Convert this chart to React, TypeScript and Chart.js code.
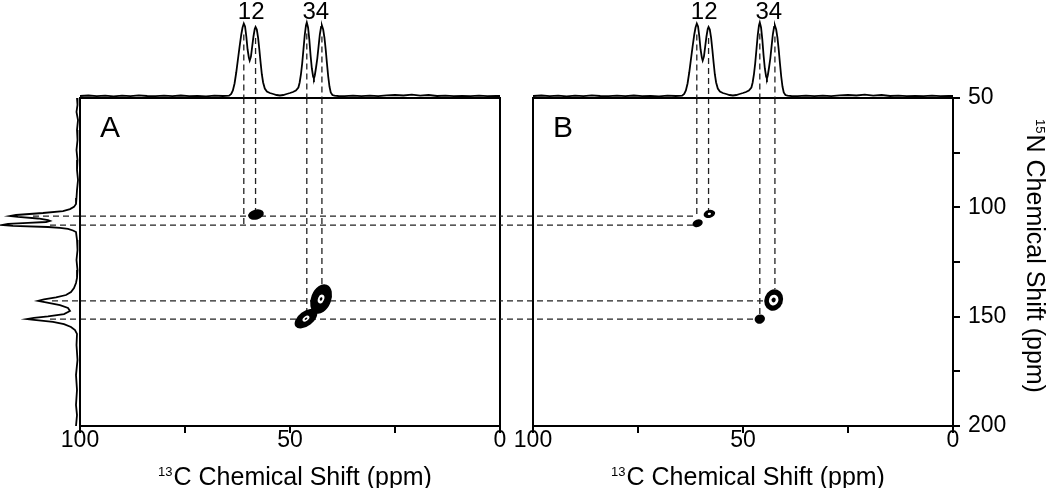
import React, { useEffect, useRef } from "react";
import { Chart, registerables } from "chart.js";

Chart.register(...registerables);

const FONT = "'Liberation Sans', Arial, Helvetica, sans-serif";

// ---------------- axes ----------------
const C_MIN = 0;
const C_MAX = 100;
const N_MIN = 50;
const N_MAX = 200;
const cTicks = [0, 25, 50, 75, 100];
const cTickLabels = ["0", "", "50", "", "100"];
const nTicks = [50, 75, 100, 125, 150, 175, 200];
const nTickLabels = ["50", "", "100", "", "150", "", "200"];
const TOP_I_MIN = -1.5;
const TOP_I_MAX = 96.5;
const PROJ_I_MIN = -2;
const PROJ_I_MAX = 78;

// ---------------- 1D 13C spectrum (ppm, intensity) ----------------
const topSpectrum: [number, number][] = [
  [100, 0.5], [98, 1.0], [96, 0.3], [94, 0.8], [92, 0.2], [90, 0.9], [88, 0.4], [86, 1.2],
  [84, 0.5], [82, 0.3], [80, 0.9], [78, 0.4], [76, 1.0], [74, 0.3], [72, 0.7], [70, 0.2],
  [68, 0.8], [66, 0.5], [64.5, 0.8], [64.0, 2.5], [63.6, 6], [63.2, 13], [62.8, 24], [62.4, 37],
  [62.0, 50], [61.6, 62], [61.3, 69], [61.0, 73], [60.7, 70], [60.4, 60], [60.1, 47], [59.8, 39],
  [59.6, 36], [59.3, 40], [59.0, 50], [58.7, 60], [58.4, 67.5], [58.2, 69.5], [57.9, 67], [57.6, 59],
  [57.3, 47], [57.0, 34], [56.7, 22], [56.4, 14], [56.0, 8], [55.5, 5], [54.8, 3.5], [54.0, 2.5],
  [53.2, 1.5], [52.4, 1], [51.6, 1.5], [50.8, 2.5], [50.0, 3.5], [49.3, 4.5], [48.6, 6], [48.0, 9],
  [47.7, 14], [47.4, 22], [47.1, 33], [46.8, 47], [46.5, 61], [46.2, 71], [46.0, 74], [45.7, 69],
  [45.4, 57], [45.1, 41], [44.8, 28], [44.5, 20], [44.3, 18], [44.1, 21], [43.8, 29], [43.5, 38],
  [43.2, 50], [42.9, 62], [42.6, 69.5], [42.4, 71], [42.1, 67], [41.8, 59], [41.5, 47], [41.2, 33],
  [40.9, 20], [40.6, 10], [40.3, 4], [39.9, 1.5], [39.4, 0.8], [38.5, 0.5], [37, 0.3], [35, 0.9],
  [33, 0.4], [31, 0.8], [29, 0.3], [27, 1.2], [25, 1.5], [23, 1.0], [21, 1.8], [19, 0.8],
  [17, 1.5], [15, 0.5], [13, 0.9], [11, 0.3], [9, 0.7], [7, 0.4], [5, 0.8], [3, 0.3],
  [1, 0.6], [0, 0.5],
];

// ---------------- 15N projection (ppm, intensity) ----------------
const projection: [number, number][] = [
  [50, 1], [53.2, 0.5], [56.4, 1.5], [60.1, 0], [64.6, 1], [69.2, 0.5], [73.8, 1.5], [78.4, 0.5],
  [82.9, 1], [87.5, 0], [92.1, 1], [95.7, 1.5], [98.5, 2], [99.8, 4], [100.8, 8], [101.7, 15],
  [102.6, 35], [103.5, 62], [104.0, 68], [104.4, 60], [105.1, 40], [105.8, 30], [106.2, 28], [106.7, 32],
  [107.1, 50], [107.6, 70], [108.1, 76], [108.5, 65], [109.0, 30], [109.4, 18], [109.9, 10], [110.6, 5],
  [111.3, 2], [114.9, 1], [119.5, 0.5], [124.1, 1.5], [128.7, 0.5], [132.3, 1], [134.6, 2], [136.9, 4],
  [138.7, 7], [140.1, 12], [141.2, 22], [142.1, 34], [142.8, 40], [143.5, 32], [144.7, 18], [146.0, 10],
  [147.4, 8], [148.8, 14], [149.9, 30], [150.6, 44], [151.1, 51], [151.5, 44], [152.4, 25], [153.4, 14],
  [154.7, 7], [156.1, 3], [157.9, 1], [163.0, 1.5], [169.8, 0.5], [176.7, 2], [183.5, 1], [190.4, 2],
  [195.0, 1], [200, 2],
];

// ---------------- peak assignments ----------------
const peakC = [61.0, 58.2, 46.0, 42.4];
const peakLineTop = [62, 58.5, 63, 60];
const peakLabelText = ["12", "34"];
const peakLabelGroups = [[0, 1], [2, 3]];
const vLineEndA = [108.1, 103.3, 147.7, 135.5];
const vLineEndB = [104.0, 102.0, 150.0, 137.3];

const hLineN = [104.0, 108.1, 142.8, 151.1];
const hLineProjStart = [45, 28, 26, 28];
const hLineEndB = [61.0, 61.9, 44.5, 47.0];

// ---------------- 2D cross peaks ----------------
const crossA = {
  c: [58.1, 46.2, 42.6],
  n: [103.3, 150.9, 141.9],
  dc: [1.9, 3.1, 2.4],
  dn: [2.3, 3.4, 7.0],
};
const crossATilt = [-15, -37, 22];
const crossALevels = [[1], [1, 0.3, 0.12], [1, 0.3, 0.12]];

const crossB = {
  c: [60.8, 58.0, 46.0, 42.7],
  n: [107.3, 103.0, 151.1, 142.4],
  dc: [1.25, 1.4, 1.25, 2.2],
  dn: [1.7, 1.8, 2.1, 5.0],
};
const crossBTilt = [-20, -15, -20, 20];
const crossBLevels = [[1], [1, 0.28], [1], [1, 0.5, 0.22]];

// ---------------- helpers ----------------
const baseOptions = (padding: any) => ({
  animation: false,
  responsive: false,
  maintainAspectRatio: false,
  events: [],
  layout: { padding },
  plugins: { legend: { display: false }, tooltip: { enabled: false }, title: { display: false } },
});

const specLine = (pts: any[]) => ({
  data: pts,
  borderColor: "#000",
  borderWidth: 1.8,
  pointRadius: 0,
  fill: false,
  tension: 0,
});

const dash = (pts: any[], clip: any) => ({
  data: pts,
  borderColor: "#222",
  borderWidth: 1.3,
  borderDash: [6, 4],
  pointRadius: 0,
  fill: false,
  tension: 0,
  clip,
});

function drawSupTitle(ctx: CanvasRenderingContext2D, sup: string, main: string, tx: number, ty: number, rot: number) {
  ctx.save();
  ctx.translate(tx, ty);
  ctx.rotate(rot);
  ctx.fillStyle = "#000";
  ctx.textAlign = "left";
  ctx.textBaseline = "alphabetic";
  ctx.font = `13px ${FONT}`;
  const ws = ctx.measureText(sup).width;
  ctx.font = `25px ${FONT}`;
  const wm = ctx.measureText(main).width;
  const x0 = -(ws + 1 + wm) / 2;
  ctx.font = `13px ${FONT}`;
  ctx.fillText(sup, x0, -9);
  ctx.font = `25px ${FONT}`;
  ctx.fillText(main, x0 + ws + 1, 0);
  ctx.restore();
}

const peakLabelPlugin = {
  id: "peakLabels",
  afterDatasetsDraw(chart: any) {
    const { ctx } = chart;
    const x = chart.scales.x;
    ctx.save();
    ctx.font = `24px ${FONT}`;
    ctx.fillStyle = "#000";
    ctx.textAlign = "center";
    ctx.textBaseline = "alphabetic";
    peakLabelGroups.forEach((g, k) => {
      const px = g.reduce((s, i) => s + x.getPixelForValue(peakC[i]), 0) / g.length;
      ctx.fillText(peakLabelText[k], px + 1.5, 19);
    });
    ctx.restore();
  },
};

const contourPlugin = (peaks: any, tilt: number[], levels: number[][]) => ({
  id: "contours",
  afterDatasetsDraw(chart: any) {
    const { ctx } = chart;
    const x = chart.scales.x;
    const y = chart.scales.y;
    ctx.save();
    peaks.c.forEach((c: number, i: number) => {
      const cx = x.getPixelForValue(c);
      const cy = y.getPixelForValue(peaks.n[i]);
      const rx = Math.abs(x.getPixelForValue(c + peaks.dc[i]) - cx);
      const ry = Math.abs(y.getPixelForValue(peaks.n[i] + peaks.dn[i]) - cy);
      levels[i].forEach((f, k) => {
        ctx.beginPath();
        ctx.ellipse(cx, cy, rx * f, ry * f, (tilt[i] * Math.PI) / 180, 0, Math.PI * 2);
        ctx.fillStyle = k % 2 === 0 ? "#000" : "#fff";
        ctx.fill();
      });
    });
    ctx.restore();
  },
});

const framePlugin = (letter: string, rightTitle: boolean) => ({
  id: "frame",
  afterDraw(chart: any) {
    const { ctx, chartArea: a } = chart;
    ctx.save();
    ctx.strokeStyle = "#000";
    ctx.lineWidth = 2;
    ctx.strokeRect(a.left, a.top, a.right - a.left, a.bottom - a.top);
    ctx.fillStyle = "#000";
    ctx.font = `30px ${FONT}`;
    ctx.textAlign = "left";
    ctx.textBaseline = "alphabetic";
    ctx.fillText(letter, a.left + 20, a.top + 39);
    drawSupTitle(ctx, "13", "C Chemical Shift (ppm)", (a.left + a.right) / 2 + 5, chart.height - 3, 0);
    if (rightTitle) {
      drawSupTitle(ctx, "15", "N Chemical Shift (ppm)", a.right + 74, (a.top + a.bottom) / 2 - 6, Math.PI / 2);
    }
    ctx.restore();
  },
});

const xAxis = () => ({
  type: "linear",
  min: C_MIN,
  max: C_MAX,
  reverse: true,
  afterBuildTicks: (s: any) => {
    s.ticks = cTicks.map((v) => ({ value: v }));
  },
  afterFit: (s: any) => {
    s.height = 62;
  },
  ticks: {
    autoSkip: false,
    maxRotation: 0,
    minRotation: 0,
    color: "#000",
    padding: -4,
    font: { family: FONT, size: 23, lineHeight: 1 },
    callback: (v: number) => cTickLabels[cTicks.indexOf(v)] ?? "",
  },
  grid: { display: true, drawOnChartArea: false, drawTicks: true, tickLength: 7, color: "#000", lineWidth: 2 },
  border: { display: false },
});

function topConfig(padding: any) {
  return {
    type: "line",
    data: {
      datasets: [
        specLine(topSpectrum.map(([c, v]) => ({ x: c, y: v }))),
        ...peakC.map((c, i) => dash([{ x: c, y: peakLineTop[i] }, { x: c, y: TOP_I_MIN - 50 }], 0)),
      ],
    },
    options: {
      ...baseOptions(padding),
      scales: {
        x: { type: "linear", min: C_MIN, max: C_MAX, reverse: true, display: false },
        y: { type: "linear", min: TOP_I_MIN, max: TOP_I_MAX, display: false },
      },
    },
    plugins: [peakLabelPlugin],
  };
}

function projConfig() {
  return {
    type: "line",
    data: {
      datasets: [
        specLine(projection.map(([n, v]) => ({ x: v, y: n }))),
        ...hLineN.map((n, i) => dash([{ x: hLineProjStart[i], y: n }, { x: PROJ_I_MIN - 50, y: n }], 0)),
      ],
    },
    options: {
      ...baseOptions({ left: 0, right: 0, top: 98, bottom: 62 }),
      scales: {
        x: { type: "linear", min: PROJ_I_MIN, max: PROJ_I_MAX, reverse: true, display: false },
        y: { type: "linear", min: N_MIN, max: N_MAX, reverse: true, display: false },
      },
    },
  };
}

function panelAConfig() {
  return {
    type: "line",
    data: {
      datasets: [
        ...peakC.map((c, i) => dash([{ x: c, y: N_MIN }, { x: c, y: vLineEndA[i] }], 0)),
        ...hLineN.map((n) => dash([{ x: C_MAX, y: n }, { x: C_MIN, y: n }], 0)),
      ],
    },
    options: {
      ...baseOptions({ left: 40, right: 17, top: 98, bottom: 0 }),
      scales: {
        x: xAxis(),
        y: { type: "linear", min: N_MIN, max: N_MAX, reverse: true, display: false },
      },
    },
    plugins: [contourPlugin(crossA, crossATilt, crossALevels), framePlugin("A", false)],
  };
}

function panelBConfig() {
  return {
    type: "line",
    data: {
      datasets: [
        ...peakC.map((c, i) => dash([{ x: c, y: N_MIN }, { x: c, y: vLineEndB[i] }], 0)),
        ...hLineN.map((n, i) =>
          dash([{ x: C_MAX + 30, y: n }, { x: hLineEndB[i], y: n }], { left: false, right: 0, top: 0, bottom: 0 })
        ),
      ],
    },
    options: {
      ...baseOptions({ left: 33, right: 0, top: 98, bottom: 0 }),
      scales: {
        x: xAxis(),
        y: {
          type: "linear",
          position: "right",
          min: N_MIN,
          max: N_MAX,
          reverse: true,
          afterBuildTicks: (s: any) => {
            s.ticks = nTicks.map((v) => ({ value: v }));
          },
          afterFit: (s: any) => {
            s.width = 97;
          },
          ticks: {
            autoSkip: false,
            color: "#000",
            padding: 8,
            font: { family: FONT, size: 23, lineHeight: 1 },
            callback: (v: number) => nTickLabels[nTicks.indexOf(v)] ?? "",
          },
          grid: { display: true, drawOnChartArea: false, drawTicks: true, tickLength: 7, color: "#000", lineWidth: 2 },
          border: { display: false },
        },
      },
    },
    plugins: [contourPlugin(crossB, crossBTilt, crossBLevels), framePlugin("B", true)],
  };
}

function ChartBox(props: { left: number; top: number; width: number; height: number; make: () => any }) {
  const ref = useRef<HTMLCanvasElement>(null);
  useEffect(() => {
    const chart = new Chart(ref.current as HTMLCanvasElement, props.make());
    return () => chart.destroy();
  }, []);
  return (
    <canvas
      ref={ref}
      width={props.width}
      height={props.height}
      style={{ position: "absolute", left: props.left, top: props.top, width: props.width, height: props.height }}
    />
  );
}

export default function App() {
  return (
    <div style={{ position: "absolute", left: 0, top: 0, width: 1050, height: 488, background: "#fff", overflow: "hidden" }}>
      <ChartBox left={0} top={0} width={80} height={488} make={projConfig} />
      <ChartBox left={40} top={0} width={477} height={488} make={panelAConfig} />
      <ChartBox left={500} top={0} width={550} height={488} make={panelBConfig} />
      <ChartBox left={40} top={0} width={477} height={98} make={() => topConfig({ left: 40, right: 17, top: 0, bottom: 0 })} />
      <ChartBox left={500} top={0} width={550} height={98} make={() => topConfig({ left: 33, right: 97, top: 0, bottom: 0 })} />
    </div>
  );
}
